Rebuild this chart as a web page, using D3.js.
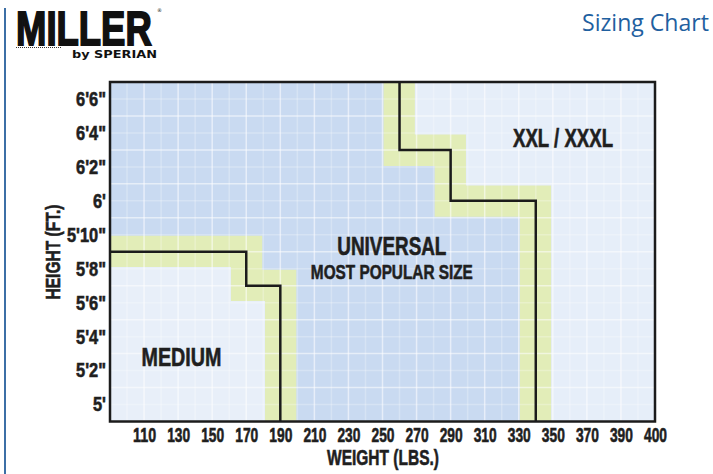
<!DOCTYPE html>
<html>
<head>
<meta charset="utf-8">
<script src="https://cdn.jsdelivr.net/npm/d3@7/dist/d3.min.js"></script>
<style>
body{margin:0;background:#fff;}
svg{display:block;}
.cond{font-family:"Liberation Sans",Arial,sans-serif;font-weight:bold;stroke:#1f1f1f;stroke-width:0.6px;}
</style>
</head>
<body>
<script>
//刻度和数据
const weightTicks=[110,130,150,170,190,210,230,250,270,290,310,330,350,370,390,410];
const weightLabels=["110","130","150","170","190","210","230","250","270","290","310","330","350","370","390","400"];
const heightTicks=[60,62,64,66,68,70,72,74,76,78];
const heightLabels=["5'","5'2\"","5'4\"","5'6\"","5'8\"","5'10\"","6'","6'2\"","6'4\"","6'6\""];
const weightDomain=[90,410];
const heightDomain=[59,79];
//尺码分界线 (体重, 身高英寸)
const mediumEdge=[[90,69],[170,69],[170,67],[190,67],[190,59]];
const xxlEdge=[[260,79],[260,75],[290,75],[290,72],[340,72],[340,59]];
const zoneNames=["MEDIUM","UNIVERSAL","MOST POPULAR SIZE","XXL / XXXL"];
const zoneAnchors=[[132,62.8],[255.5,69.35],[255.5,67.85],[356,75.7]];

let width=713,height=474;
let svg=d3.select("body").append("svg").attr("width",width).attr("height",height);

let x=d3.scaleLinear().domain(weightDomain).range([110,655]);
let y=d3.scaleLinear().domain(heightDomain).range([421.5,82]);
let line=d3.line().x(d=>x(d[0])).y(d=>y(d[1]));

//把文字压窄
function squeeze(sel,k){
  sel.each(function(){
    let w=this.getComputedTextLength();
    d3.select(this).attr("textLength",w*k).attr("lengthAdjust","spacingAndGlyphs");
  });
}

//左边蓝线
svg.append("line").attr("x1",5).attr("x2",5).attr("y1",8).attr("y2",height)
  .attr("stroke","#3c6fa6").attr("stroke-width",2);

//logo (字号按宽度定, 再纵向拉高)
svg.append("text").attr("transform","translate(16,45) scale(1,1.33)")
  .style("font-family","'Liberation Sans',Arial,sans-serif").style("font-weight","bold")
  .style("font-size","36.5px").attr("fill","#111").attr("stroke","#111").attr("stroke-width",1.4).text("MILLER");
svg.append("text").attr("x",157).attr("y",12).style("font-size","5px")
  .style("font-family","DejaVu Sans").attr("fill","#111").text("®");
svg.append("line").attr("x1",16).attr("x2",62).attr("y1",47.5).attr("y2",47.5)
  .attr("stroke","#333").attr("stroke-width",1).attr("stroke-dasharray","1,1");
svg.append("text").attr("x",72).attr("y",58).attr("textLength",85).attr("lengthAdjust","spacingAndGlyphs")
  .style("font-family","DejaVu Sans").style("font-weight","bold").style("font-size","10px")
  .attr("fill","#111").text("by SPERIAN");

//标题
svg.append("text").attr("x",709).attr("y",31).attr("text-anchor","end")
  .attr("textLength",127).attr("lengthAdjust","spacingAndGlyphs")
  .style("font-family","'Open Sans','Noto Sans',sans-serif").style("font-size","24px")
  .attr("fill","#1f60a0").text("Sizing Chart");

//画图区域
let plot=svg.append("g");
plot.append("clipPath").attr("id","clip").append("rect")
  .attr("x",x(weightDomain[0])).attr("y",y(heightDomain[1]))
  .attr("width",x(weightDomain[1])-x(weightDomain[0])).attr("height",y(heightDomain[0])-y(heightDomain[1]));
let inner=plot.append("g").attr("clip-path","url(#clip)");

//universal 底色
inner.append("rect").attr("x",x(weightDomain[0])).attr("y",y(heightDomain[1]))
  .attr("width",x(weightDomain[1])-x(weightDomain[0])).attr("height",y(heightDomain[0])-y(heightDomain[1]))
  .attr("fill","#c9daf1");
//绿色光晕
[mediumEdge,xxlEdge].forEach(function(e){
  inner.append("path").attr("d",line(e)).attr("fill","none")
    .attr("stroke","#e2edb8").attr("stroke-width",32).attr("stroke-linejoin","miter");
});
//medium 区域 (光晕内侧)
let medInner=[[90,69-0.9],[170-9,69-0.9],[170-9,67-0.9],[190-9,67-0.9],[190-9,59],[90,59]];
inner.append("path").attr("d",line(medInner)+"Z").attr("fill","#e8eff9");
//xxl 区域
let xxlInner=[[260+9,79],[260+9,75+0.9],[290+9,75+0.9],[290+9,72+0.9],[340+9,72+0.9],[340+9,59],[410,59],[410,79]];
inner.append("path").attr("d",line(xxlInner)+"Z").attr("fill","#e6eef9");

//白色网格
inner.selectAll(".vg").data(d3.range(100,411,10)).enter().append("line")
  .attr("x1",d=>x(d)).attr("x2",d=>x(d)).attr("y1",y(heightDomain[1])).attr("y2",y(heightDomain[0]))
  .attr("stroke","#fff").attr("stroke-width",1.5).attr("opacity",d=>(d%20==10)?0.55:0.25);
inner.selectAll(".hg").data(d3.range(59,80,1)).enter().append("line")
  .attr("y1",d=>y(d)).attr("y2",d=>y(d)).attr("x1",x(weightDomain[0])).attr("x2",x(weightDomain[1]))
  .attr("stroke","#fff").attr("stroke-width",1.5).attr("opacity",d=>(d%2==1)?0.55:0.25);

//分界线
[mediumEdge,xxlEdge].forEach(function(e){
  inner.append("path").attr("d",line(e)).attr("fill","none")
    .attr("stroke","#1b1b1b").attr("stroke-width",2.5);
});

//边框
plot.append("rect").attr("x",x(weightDomain[0])).attr("y",y(heightDomain[1]))
  .attr("width",x(weightDomain[1])-x(weightDomain[0])).attr("height",y(heightDomain[0])-y(heightDomain[1]))
  .attr("fill","none").attr("stroke","#1b1b1b").attr("stroke-width",2.5);

//坐标轴
let xAxis=d3.axisBottom(x).tickValues(weightTicks).tickFormat((d,i)=>weightLabels[i]).tickSize(0).tickPadding(6);
let gx=svg.append("g").attr("transform","translate(0,"+y(heightDomain[0])+")").call(xAxis);
gx.select(".domain").remove();
gx.selectAll("text").attr("class","cond").style("font-size","20px").attr("fill","#1f1f1f")
  .attr("textLength",23).attr("lengthAdjust","spacingAndGlyphs");

let yAxis=d3.axisLeft(y).tickValues(heightTicks).tickFormat((d,i)=>heightLabels[i]).tickSize(0).tickPadding(4);
let gy=svg.append("g").attr("transform","translate("+x(weightDomain[0])+",0)").call(yAxis);
gy.select(".domain").remove();
gy.selectAll("text").attr("class","cond").style("font-size","20px").attr("fill","#1f1f1f");
squeeze(gy.selectAll("text"),0.82);

//坐标轴标题
svg.append("text").attr("class","cond").attr("x",383).attr("y",465).attr("text-anchor","middle")
  .attr("textLength",112).attr("lengthAdjust","spacingAndGlyphs")
  .style("font-size","22px").attr("fill","#1f1f1f").text("WEIGHT (LBS.)");
svg.append("text").attr("class","cond").attr("transform","translate(60,252) rotate(-90)").attr("text-anchor","middle")
  .attr("textLength",95).attr("lengthAdjust","spacingAndGlyphs")
  .style("font-size","21px").attr("fill","#1f1f1f").text("HEIGHT (FT.)");

//区域文字
let sizes=[26,25,21,26];
let widths=[80,109,162,100];
svg.selectAll(".zone").data(zoneNames).enter().append("text").attr("class","cond")
  .attr("x",(d,i)=>x(zoneAnchors[i][0])).attr("y",(d,i)=>y(zoneAnchors[i][1]))
  .attr("dy","0.36em").attr("text-anchor","middle")
  .attr("textLength",(d,i)=>widths[i]).attr("lengthAdjust","spacingAndGlyphs")
  .style("font-size",(d,i)=>sizes[i]+"px").attr("fill","#1f1f1f").text(d=>d);
</script>
</body>
</html>
